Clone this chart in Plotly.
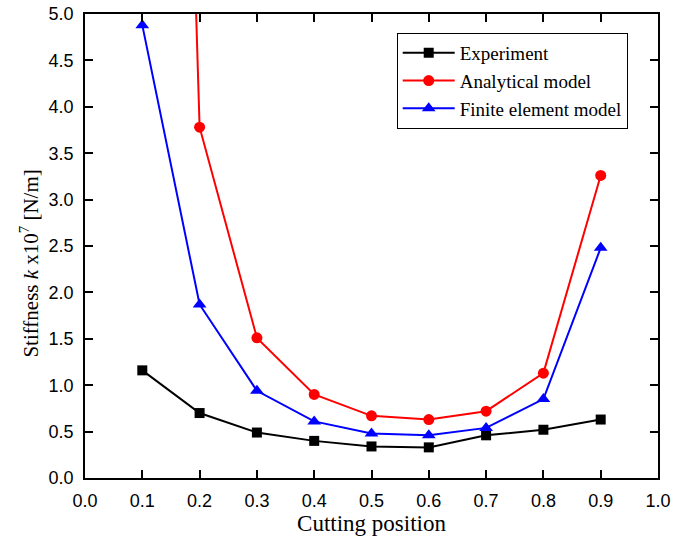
import plotly.graph_objects as go

# Cutting positions and measured / modelled stiffness (x10^7 N/m)
positions = [0.1, 0.2, 0.3, 0.4, 0.5, 0.6, 0.7, 0.8, 0.9]
experiment = [1.16, 0.70, 0.49, 0.40, 0.34, 0.33, 0.46, 0.52, 0.63]
analytical = [24.0, 3.78, 1.51, 0.90, 0.67, 0.63, 0.72, 1.13, 3.26]
finite_element = [4.88, 1.87, 0.94, 0.61, 0.48, 0.46, 0.54, 0.85, 2.48]

x_ticks = [round(i * 0.1, 1) for i in range(11)]
y_ticks = [round(i * 0.5, 1) for i in range(11)]

serif = "Liberation Serif, Times New Roman, serif"
sans = "Liberation Sans, Arial, sans-serif"

fig = go.Figure()
series = [
    ("Experiment", experiment, "black", "square", 10),
    ("Analytical model", analytical, "red", "circle", 11),
    ("Finite element model", finite_element, "blue", "triangle-up", 12),
]
for name, vals, color, symbol, size in series:
    fig.add_trace(go.Scatter(
        x=positions, y=vals, name=name, mode="lines+markers",
        line=dict(color=color, width=2),
        marker=dict(color=color, symbol=symbol, size=size),
    ))

axis_common = dict(
    showline=True, linecolor="black", linewidth=1.5, showgrid=False,
    zeroline=False, ticks="inside", mirror="ticks",
    ticklen=8, tickwidth=1.5, tickcolor="black", automargin=False,
    tickfont=dict(family=sans, size=18, color="black"),
)

fig.update_layout(
    width=673, height=540,
    margin=dict(l=85, r=15, t=14, b=62),
    plot_bgcolor="white", paper_bgcolor="white",
    showlegend=True,
    legend=dict(
        x=0.544, y=0.959, xanchor="left", yanchor="top",
        bgcolor="white", bordercolor="black", borderwidth=1,
        font=dict(family=serif, size=19, color="black"),
        tracegroupgap=0, itemwidth=52,
    ),
    xaxis=dict(
        range=[0, 1], tickvals=x_ticks, ticktext=[f"{v:.1f}" for v in x_ticks],
        ticklabelstandoff=6,
        title=dict(text="Cutting position", font=dict(family=serif, size=23, color="black"), standoff=4),
        **axis_common,
    ),
    yaxis=dict(
        range=[0, 5], tickvals=y_ticks, ticktext=[f"{v:.1f}" for v in y_ticks],
        ticklabelstandoff=6,
        **axis_common,
    ),
)

# Vertical axis title, set slightly below the plot's mid-height
fig.add_annotation(
    text="Stiffness <i>k</i> x10<sup>7</sup> [N/m]",
    xref="paper", yref="paper", x=-0.096, y=0.462,
    xanchor="center", yanchor="middle", textangle=-90, showarrow=False,
    font=dict(family=serif, size=21, color="black"),
)

fig.write_html("out.html")
